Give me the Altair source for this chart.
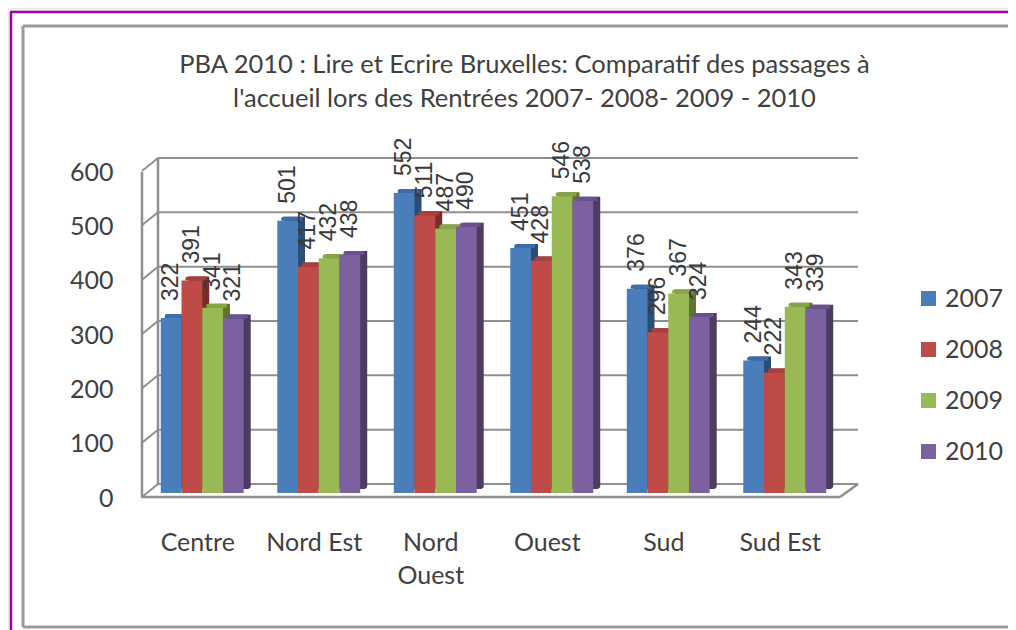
import altair as alt
import pandas as pd

categories = ["Centre", "Nord Est", "Nord Ouest", "Ouest", "Sud", "Sud Est"]
years = ["2007", "2008", "2009", "2010"]
v2007 = [322, 501, 552, 451, 376, 244]
v2008 = [391, 417, 511, 428, 296, 222]
v2009 = [341, 432, 487, 546, 367, 343]
v2010 = [321, 438, 490, 538, 324, 339]
front_colors = ["#4a7ebb", "#be4b48", "#98b954", "#7d60a0"]
cap_colors = ["#3d6ca6", "#a83f3c", "#85a547", "#6a5090"]
side_colors = ["#2c4d75", "#772c2a", "#5f7530", "#4d3b62"]
grid_values = [0, 100, 200, 300, 400, 500, 600]
title_lines = [
    "PBA 2010 : Lire et Ecrire Bruxelles: Comparatif des passages à",
    "l'accueil lors des Rentrées 2007- 2008- 2009 - 2010",
]

FONT = "Lato"
TEXT = "#404040"
GRID = "#8f8f8f"
L, T = 136, 159
W, H = 699, 326
BAR = 0.178   # bar width, in category widths
GAP = 0.144   # margin before the first bar of a cluster


def px(page):
    return page - 8 - L


def py(page):
    return page - 8 - T


rows = []
for j, (year, vals) in enumerate(zip(years, [v2007, v2008, v2009, v2010])):
    for i, (cat, val) in enumerate(zip(categories, vals)):
        start = i + GAP + j * BAR
        rows.append({"cat": cat, "year": year, "v": val, "x0": start, "x1": start + BAR,
                     "xm": start + BAR / 2})
df = pd.DataFrame(rows)
grid_df = pd.DataFrame({"g": grid_values})

yscale = alt.Scale(domain=[0, 600], range=[H, 0])
xscale = alt.Scale(domain=[0, len(categories)], range=[0, W], nice=False, zero=False)

names_js = "[" + ",".join(
    "['Nord','Ouest']" if c == "Nord Ouest" else "'" + c + "'" for c in categories
) + "]"
X = alt.X(
    "x0:Q", scale=xscale, title=None,
    axis=alt.Axis(
        values=[i + 0.5 for i in range(len(categories))],
        domain=False, ticks=False, grid=False, labelAngle=0, labelFontSize=25, labelFont=FONT,
        labelColor=TEXT, labelPadding=37, labelLimit=0, labelLineHeight=33, labelOffset=-5,
        labelBaseline="top", labelFlush=False, labelOverlap=False, zindex=2,
        labelExpr=names_js + "[floor(datum.value)]",
    ),
)
X2 = alt.X2("x1:Q")
Y = alt.Y(
    "v:Q", scale=yscale, title=None,
    axis=alt.Axis(
        values=grid_values, domain=False, ticks=False, grid=False, labelFontSize=25,
        labelFont=FONT, labelColor=TEXT, labelPadding=31, labelOffset=5, zindex=2,
    ),
)
COLOR = alt.Color(
    "year:N", scale=alt.Scale(domain=years, range=front_colors),
    legend=alt.Legend(
        title=None, orient="none", legendX=px(916), legendY=py(286), symbolType="square",
        symbolSize=225, symbolStrokeWidth=0, labelFontSize=25, labelFont=FONT,
        labelColor=TEXT, rowPadding=25, labelOffset=4,
    ),
)


def deco(page_x, page_x2, page_y, page_y2, color=GRID, width=2.5):
    return alt.Chart(grid_df.head(1)).mark_rule(color=color, strokeWidth=width).encode(
        x=alt.value(px(page_x)), x2=alt.value(px(page_x2)),
        y=alt.value(py(page_y)), y2=alt.value(py(page_y2)),
    )


backdrop = alt.Chart(grid_df.head(1)).mark_rect(color="#ffffff").encode(
    x=alt.value(px(12)), x2=alt.value(px(1016)), y=alt.value(py(13)), y2=alt.value(py(630))
)
frame = [
    deco(10, 1016, 12, 12, "#a0059f", 2.5),
    deco(11, 11, 12, 630, "#a0059f", 2.5),
    deco(23, 1016, 26, 26, "#9a9a9a", 3),
    deco(23, 23, 26, 627, "#9a9a9a", 3),
    deco(23, 1016, 627, 627, "#9a9a9a", 3),
]

gy = alt.Y("g:Q", scale=yscale, title=None)
back_grid = alt.Chart(grid_df).mark_rule(color=GRID, strokeWidth=2, yOffset=-9, y2Offset=-9).encode(
    y=gy, y2=alt.Y2("g:Q"), x=alt.value(px(158)), x2=alt.value(px(858))
)
side_grid = alt.Chart(grid_df).mark_rule(color=GRID, strokeWidth=2, yOffset=-9, y2Offset=4).encode(
    y=gy, y2=alt.Y2("g:Q"), x=alt.value(px(158)), x2=alt.value(px(142))
)
left_wall = deco(142, 142, 172, 497)
back_left = deco(158, 158, 158, 484)
floor_front = deco(141, 840, 497, 497)
floor_right = deco(840, 858, 497, 484)

layers = [backdrop] + frame + [back_left, back_grid, side_grid, left_wall, floor_right, floor_front]

for i, year in enumerate(years):
    base = alt.Chart(df).transform_filter(alt.datum.year == year)
    side = base.mark_bar(
        color=side_colors[i], xOffset=7, x2Offset=7, yOffset=-4, y2Offset=-4, cornerRadiusBottomRight=3
    ).encode(x=X, x2=X2, y=Y, y2=alt.datum(0))
    cap = base.mark_bar(
        color=cap_colors[i], xOffset=4, x2Offset=4, yOffset=-4, y2Offset=0, cornerRadiusTopLeft=3
    ).encode(x=X, x2=X2, y=Y, y2=alt.Y2("v:Q"))
    front = base.mark_bar().encode(x=X, x2=X2, y=Y, y2=alt.datum(0), color=COLOR)
    layers += [side, cap, front]

labels = alt.Chart(df).mark_text(
    angle=270, align="left", baseline="middle", yOffset=-17, fontSize=23,
    font="Liberation Sans", color="#3a3a3a",
).encode(x=alt.X("xm:Q", scale=xscale, title=None), y=Y, text=alt.Text("v:Q"))
layers.append(labels)

chart = alt.layer(*layers).properties(
    width=W, height=H,
    padding={"left": L, "top": T, "right": 1000 - L - W, "bottom": 622 - T - H},
    autosize=alt.AutoSizeParams(type="none"),
    background="#ebebeb",
    title=alt.Title(
        text=title_lines, font=FONT, fontSize=25.5, fontWeight="normal", color=TEXT,
        anchor="middle", dx=31, offset=-102, lineHeight=34,
    ),
).configure_view(stroke=None)

chart.save("out.html", embed_options={"renderer": "svg", "actions": False})
